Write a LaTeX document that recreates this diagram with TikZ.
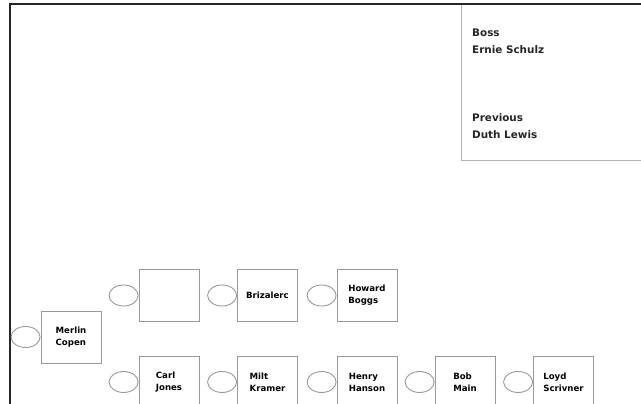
\documentclass[tikz,border=0pt]{standalone}
\usepackage{fontspec}
\setmainfont{DejaVu Sans}
\usetikzlibrary{positioning,shapes.geometric}

\begin{document}
\begin{tikzpicture}[x=1pt,y=-1pt,
  person/.style={draw=gray!80, line width=0.9pt, minimum width=60pt, minimum height=52pt, inner sep=0pt, align=left, font=\fontsize{8.6}{12}\selectfont\bfseries},
  slot/.style={draw=gray!80, line width=0.9pt, ellipse, minimum width=29pt, minimum height=21pt, inner sep=0pt},
  info/.style={anchor=north west, align=left, inner sep=0pt, font=\fontsize{10.4}{17}\selectfont\bfseries, text=black!85}]
\useasboundingbox (0,0) rectangle (641,404);

\draw[gray!60, line width=0.9pt] (461,4) -- (461,160) -- (645,160);
\draw[black!85, line width=1.5pt] (10,404) -- (10,4) -- (645,4);

\node[info] (boss) at (472,29) {Boss\\Ernie Schulz};
\node[info] (prev) at (472,113) {Previous\\Duth Lewis};

\node[person] (merlin) at (71,337) {Merlin\\Copen};
\node[slot, left=0pt of merlin] (s-merlin) {};

\node[person] (blank) at (169,295.5) {};
\node[slot, left=0pt of blank] (s-blank) {};
\node[person] (brizalerc) at (267.5,295.5) {Brizalerc};
\node[slot, left=0pt of brizalerc] (s-brizalerc) {};
\node[person] (howard) at (367,295.5) {Howard\\Boggs};
\node[slot, left=0pt of howard] (s-howard) {};

\node[person] (carl) at (169,382) {Carl\\Jones};
\node[slot, left=0pt of carl] (s-carl) {};
\node[person] (milt) at (267.5,382) {Milt\\Kramer};
\node[slot, left=0pt of milt] (s-milt) {};
\node[person] (henry) at (367,382) {Henry\\Hanson};
\node[slot, left=0pt of henry] (s-henry) {};
\node[person] (bob) at (465,382) {Bob\\Main};
\node[slot, left=0pt of bob] (s-bob) {};
\node[person] (loyd) at (563.5,382) {Loyd\\Scrivner};
\node[slot, left=0pt of loyd] (s-loyd) {};
\end{tikzpicture}
\end{document}
